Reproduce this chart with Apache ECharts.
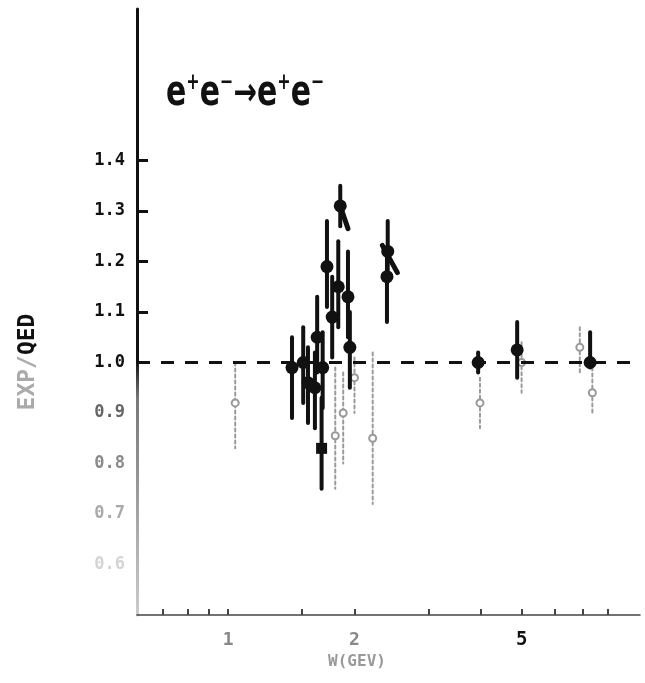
<!DOCTYPE html>
<html>
<head>
<meta charset="utf-8">
<script src="https://cdn.jsdelivr.net/npm/echarts@6/dist/echarts.min.js"></script>
<style>
html,body{margin:0;padding:0;background:#fff}
#chart{width:645px;height:683px}
</style>
</head>
<body>
<div id="chart"></div>
<script>
// Bhabha scattering e+e- -> e+e-: ratio of measured to QED cross section vs W (GeV)

// Main measurements (filled circles): W, ratio, lower and upper end of error bar
const darkW  = [1.42, 1.51, 1.55, 1.61, 1.63, 1.68, 1.72, 1.77, 1.83, 1.85, 1.93, 1.95, 2.39, 2.40, 3.94, 4.88, 7.28];
const darkR  = [0.99, 1.00, 0.96, 0.95, 1.05, 0.99, 1.19, 1.09, 1.15, 1.31, 1.13, 1.03, 1.17, 1.22, 1.00, 1.025, 1.00];
const darkLo = [0.89, 0.92, 0.88, 0.87, 0.98, 0.91, 1.11, 1.01, 1.07, 1.27, 1.05, 0.95, 1.08, 1.16, 0.98, 0.97, 0.99];
const darkHi = [1.05, 1.07, 1.03, 1.02, 1.13, 1.06, 1.28, 1.17, 1.24, 1.35, 1.22, 1.10, 1.22, 1.28, 1.02, 1.08, 1.06];

// Single point drawn as a filled square
const sqW  = [1.67];
const sqR  = [0.83];
const sqLo = [0.75];
const sqHi = [0.93];

// Lighter (faint) measurements
const faintW  = [1.04, 1.80, 1.88, 2.00, 2.21, 3.98, 5.00, 6.88, 7.37];
const faintR  = [0.92, 0.855, 0.90, 0.97, 0.85, 0.92, 1.00, 1.03, 0.94];
const faintLo = [0.83, 0.75, 0.80, 0.90, 0.72, 0.87, 0.94, 0.98, 0.90];
const faintHi = [1.00, 0.99, 0.98, 1.01, 1.02, 0.97, 1.04, 1.07, 0.99];

// Short slanted strokes attached to the two high points
const strokeA = [[1.85, 1.31], [1.93, 1.265]];
const strokeB = [[2.33, 1.232], [2.53, 1.178]];

// Axis ticks and labels
const yTickVals  = [1.0, 1.1, 1.2, 1.3, 1.4];
const yLabelVals = [0.6, 0.7, 0.8, 0.9, 1.0, 1.1, 1.2, 1.3, 1.4];
const xTickVals  = [0.7, 0.8, 0.9, 1, 1.5, 2, 3, 4, 5, 6, 7, 8];
const xLabelVals = [1, 2, 5];
const refLevel = 1.0;

function rows(w, r, lo, hi) {
  return w.map((x, i) => [x, r[i], lo[i], hi[i]]);
}

function errBar(color, width, dash) {
  return function (params, api) {
    const x = api.value(0);
    const top = api.coord([x, api.value(3)]);
    const bot = api.coord([x, api.value(2)]);
    return {
      type: 'line',
      shape: { x1: top[0], y1: top[1], x2: bot[0], y2: bot[1] },
      style: { stroke: color, lineWidth: width, lineDash: dash || null, lineCap: 'round' }
    };
  };
}

const labelFont = { fontWeight: 'bold', fontSize: 17, fontFamily: 'DejaVu Sans Mono' };
const yLabelStyle = {
  k: Object.assign({ color: '#111' }, labelFont),
  g9: Object.assign({ color: '#666' }, labelFont),
  g8: Object.assign({ color: '#8a8a8a' }, labelFont),
  g7: Object.assign({ color: '#aaa' }, labelFont),
  g6: Object.assign({ color: '#d4d4d4' }, labelFont)
};

const chart = echarts.init(document.getElementById('chart'), null, { renderer: 'canvas' });

chart.setOption({
  backgroundColor: '#fff',
  animation: false,
  grid: { left: 137, right: 5, top: 9, bottom: 68 },
  xAxis: {
    type: 'log',
    logBase: 10,
    min: 0.607,
    max: 9.57,
    splitLine: { show: false },
    axisLine: { show: true, lineStyle: { color: '#444', width: 1.5 } },
    axisTick: { show: true, inside: true, length: 6, customValues: xTickVals, lineStyle: { color: '#444', width: 2 } },
    axisLabel: {
      customValues: xLabelVals,
      margin: 16,
      formatter: function (v) {
        const n = Math.round(Number(v));
        return n === 5 ? '{k|' + n + '}' : '{g|' + n + '}';
      },
      rich: {
        k: { color: '#111', fontWeight: 'bold', fontSize: 19, fontFamily: 'DejaVu Sans Mono' },
        g: { color: '#888', fontWeight: 'bold', fontSize: 18, fontFamily: 'DejaVu Sans Mono' }
      }
    },
    minorTick: { show: false }
  },
  yAxis: {
    type: 'value',
    min: 0.5,
    max: 1.7,
    splitLine: { show: false },
    axisLine: {
      show: true,
      lineStyle: {
        width: 3,
        color: new echarts.graphic.LinearGradient(0, 0, 0, 1, [
          { offset: 0, color: '#111' },
          { offset: 0.58, color: '#111' },
          { offset: 0.64, color: '#777' },
          { offset: 1, color: '#ccc' }
        ])
      }
    },
    axisTick: { show: true, inside: true, length: 11, customValues: yTickVals, lineStyle: { color: '#111', width: 3 } },
    axisLabel: {
      customValues: yLabelVals,
      margin: 12,
      formatter: function (v) {
        const n = Number(v);
        const s = n.toFixed(1);
        let key = 'k';
        if (n < 0.95) key = 'g9';
        if (n < 0.85) key = 'g8';
        if (n < 0.75) key = 'g7';
        if (n < 0.65) key = 'g6';
        return '{' + key + '|' + s + '}';
      },
      rich: yLabelStyle
    }
  },
  graphic: [
    {
      type: 'text',
      x: 166, y: 72,
      scaleY: 1.4,
      style: {
        text: '{b|e}{s|+}{b|e}{s|−}{a|→}{b|e}{s|+}{b|e}{s|−}',
        rich: {
          b: { fill: '#111', fontSize: 30, fontWeight: 'bold', fontFamily: 'DejaVu Sans', lineHeight: 32 },
          s: { fill: '#111', fontSize: 16, fontWeight: 'bold', fontFamily: 'DejaVu Sans', verticalAlign: 'top', lineHeight: 32 },
          a: { fill: '#111', fontSize: 28, fontWeight: 'bold', fontFamily: 'DejaVu Sans', lineHeight: 32 }
        }
      }
    },
    {
      type: 'text',
      x: 28, y: 362,
      rotation: Math.PI / 2,
      style: {
        text: '{g|EXP/}{k|QED}',
        align: 'center',
        verticalAlign: 'middle',
        rich: {
          g: { fill: '#aaa', fontSize: 23, fontWeight: 'bold', fontFamily: 'DejaVu Sans Mono' },
          k: { fill: '#111', fontSize: 23, fontWeight: 'bold', fontFamily: 'DejaVu Sans Mono' }
        }
      }
    },
    {
      type: 'text',
      x: 357, y: 662,
      style: {
        text: 'W(GEV)',
        align: 'center',
        verticalAlign: 'middle',
        fill: '#999',
        fontSize: 16,
        fontWeight: 'bold',
        fontFamily: 'DejaVu Sans Mono'
      }
    }
  ],
  series: [
    {
      name: 'faint bars',
      type: 'custom',
      renderItem: errBar('#9a9a9a', 2, [3, 3]),
      data: rows(faintW, faintR, faintLo, faintHi),
      encode: { x: 0, y: [2, 3] },
      z: 2
    },
    {
      name: 'faint points',
      type: 'scatter',
      symbol: 'emptyCircle',
      symbolSize: 7,
      itemStyle: { color: '#999', borderColor: '#999', borderWidth: 2, opacity: 1 },
      data: faintW.map((x, i) => [x, faintR[i]]),
      z: 3
    },
    {
      name: 'bars',
      type: 'custom',
      renderItem: errBar('#111', 4),
      data: rows(darkW, darkR, darkLo, darkHi).concat(rows(sqW, sqR, sqLo, sqHi)),
      encode: { x: 0, y: [2, 3] },
      z: 4
    },
    {
      name: 'points',
      type: 'scatter',
      symbol: 'circle',
      symbolSize: 13,
      itemStyle: { color: '#111', opacity: 1 },
      data: darkW.map((x, i) => [x, darkR[i]]),
      z: 5,
      markLine: {
        silent: true,
        symbol: 'none',
        label: { show: false },
        lineStyle: { color: '#111', width: 3, type: [13, 11], opacity: 1 },
        data: [{ yAxis: refLevel }]
      }
    },
    {
      name: 'square',
      type: 'scatter',
      symbol: 'rect',
      symbolSize: 11,
      itemStyle: { color: '#111', opacity: 1 },
      data: sqW.map((x, i) => [x, sqR[i]]),
      z: 5
    },
    {
      name: 'stroke A',
      type: 'line',
      data: strokeA,
      showSymbol: false,
      symbol: 'none',
      lineStyle: { color: '#111', width: 5, cap: 'round' },
      z: 5
    },
    {
      name: 'stroke B',
      type: 'line',
      data: strokeB,
      showSymbol: false,
      symbol: 'none',
      lineStyle: { color: '#111', width: 5, cap: 'round' },
      z: 5
    }
  ]
});
</script>
</body>
</html>
